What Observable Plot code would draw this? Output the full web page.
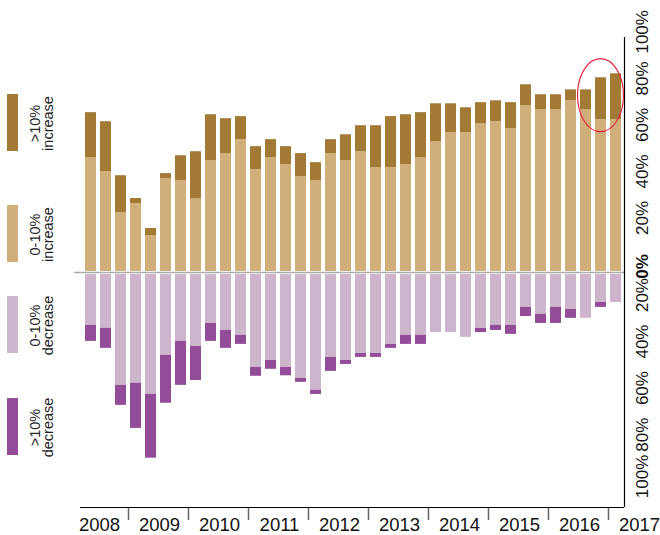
<!DOCTYPE html>
<html>
<head>
<meta charset="utf-8">
<script src="https://cdn.jsdelivr.net/npm/d3@7"></script>
<script src="https://cdn.jsdelivr.net/npm/@observablehq/plot@0.6"></script>
<style>
  body { margin: 0; background: #fff; }
  #wrap { position: relative; width: 660px; height: 535px; font-family: "Liberation Sans", Arial, Helvetica, sans-serif; }
  #wrap svg { position: absolute; left: 0; top: 0; overflow: visible; }
</style>
</head>
<body>
<div id="wrap"></div>
<script>
// ---- data (share of areas, %) ----
const quarters = [
  "2008-Q2","2008-Q3","2008-Q4","2009-Q1","2009-Q2","2009-Q3","2009-Q4","2010-Q1",
  "2010-Q2","2010-Q3","2010-Q4","2011-Q1","2011-Q2","2011-Q3","2011-Q4","2012-Q1",
  "2012-Q2","2012-Q3","2012-Q4","2013-Q1","2013-Q2","2013-Q3","2013-Q4","2014-Q1",
  "2014-Q2","2014-Q3","2014-Q4","2015-Q1","2015-Q2","2015-Q3","2015-Q4","2016-Q1",
  "2016-Q2","2016-Q3","2016-Q4","2017-Q1"
];
const incSmall = [49.4,43.3,25.8,29.6,15.9,40.3,39.5,31.8,48.1,51.1,57.1,44.2,49.4,46.4,41.2,39.5,51.1,48.1,51.9,45.1,45.1,46.4,49.4,56.2,60.1,60.1,63.9,64.8,61.8,71.7,70.0,70.0,73.8,70.0,65.7,65.7];
const incLarge = [19.3,21.5,15.8,2.2,3.0,2.2,10.7,20.1,19.7,15.0,9.9,9.9,7.7,7.7,9.9,7.7,6.0,11.1,11.2,18.0,21.9,21.4,19.3,16.3,12.4,10.7,9.1,9.0,11.2,9.0,6.4,6.4,4.7,8.5,18.0,19.7];
const decSmall = [22.7,24.0,48.5,47.6,52.4,35.6,29.6,31.8,21.9,24.9,27.0,40.8,37.8,40.8,45.5,50.6,36.5,37.8,34.8,34.8,30.9,27.0,27.0,25.8,25.8,27.9,24.0,22.7,22.7,15.0,18.0,15.0,15.9,19.7,12.9,12.9];
const decLarge = [6.9,8.6,8.6,19.4,27.4,20.6,18.9,14.6,7.7,7.7,3.9,3.8,3.8,3.6,1.7,1.8,6.0,1.7,1.7,1.7,1.7,3.9,3.9,0,0,0,1.8,2.2,3.9,3.9,3.9,6.9,3.8,0,2.1,0];

const categories = [">10% increase", "0-10% increase", "0-10% decrease", ">10% decrease"];
const colors = ["#a27a36", "#d0af7a", "#cdb6cb", "#934c97"];

const yearLabels = ["2008","2009","2010","2011","2012","2013","2014","2015","2016","2017"];
const yearTicks = [2009,2010,2011,2012,2013,2014,2015,2016,2017];
const yTicksUp = [20,40,60,80,100];
const yTicksDown = [-20,-40,-60,-80,-100];

const annotQuarter = "2016-Q4";
const annotValue = 76;

// ---- build table ----
const qStart = q => { const [y, k] = q.split("-Q"); return +y + (+k - 1) / 4; };
const rows = quarters.map((q, i) => {
  const x1 = qStart(q), x2 = x1 + 0.25;
  return {x1, x2,
    a0: 0, a1: incSmall[i], b1: incSmall[i] + incLarge[i],
    c1: -decSmall[i], d1: -(decSmall[i] + decLarge[i])};
});

const xDomain = [2008.2, 2017.2667];
const yDomain = [-101, 101];
const pct = d => Math.abs(d) + "%";

const plot = Plot.plot({
  width: 660, height: 535,
  marginLeft: 80, marginRight: 36, marginTop: 37, marginBottom: 28,
  style: {fontFamily: "'Liberation Sans', Arial, Helvetica, sans-serif", background: "transparent"},
  x: {type: "linear", domain: xDomain, ticks: yearTicks, tickSize: 13, tickFormat: () => "", label: null},
  y: {domain: yDomain, axis: null},
  marks: [
    Plot.rect(rows, {x1: "x1", x2: "x2", y1: "a0", y2: "a1", fill: colors[1], insetLeft: 2, insetRight: 2, insetBottom: 1}),
    Plot.rect(rows, {x1: "x1", x2: "x2", y1: "a1", y2: "b1", fill: colors[0], insetLeft: 2, insetRight: 2}),
    Plot.rect(rows, {x1: "x1", x2: "x2", y1: "a0", y2: "c1", fill: colors[2], insetLeft: 2, insetRight: 2, insetTop: 2}),
    Plot.rect(rows, {x1: "x1", x2: "x2", y1: "c1", y2: "d1", fill: colors[3], insetLeft: 2, insetRight: 2}),
    Plot.ruleY([0], {stroke: "#aaa", strokeWidth: 1.6, insetLeft: -6}),
    Plot.ruleY([yDomain[0]], {stroke: "#000", strokeWidth: 1.2}),
    Plot.ruleX([xDomain[1]], {stroke: "#000", strokeWidth: 1.2}),
    Plot.text(yearLabels, {x: d => +d + 0.5, y: yDomain[0], text: d => d, lineAnchor: "top", dy: 10, dx: 1, fontSize: 18.5, fill: "#111"}),
    Plot.text(yTicksUp, {x: xDomain[1], y: d => d, text: pct, rotate: -90, textAnchor: "middle", dx: 18, dy: -8, fontSize: 17, fill: "#111"}),
    Plot.text(yTicksDown, {x: xDomain[1], y: d => d, text: pct, rotate: -90, textAnchor: "start", dx: 18, dy: -7, fontSize: 17, fill: "#111"}),
    Plot.text([0], {x: xDomain[1], y: d => d, text: pct, rotate: -90, textAnchor: "middle", dx: 18, dy: -6, fontSize: 17, fontWeight: "bold", fill: "#111"})
  ]
});

// tick styling
d3.select(plot).selectAll("[aria-label='x-axis tick'] path, [aria-label='x-axis'] path, g[aria-label='x-axis'] line").attr("stroke", "#666").attr("stroke-width", 1.5);

// annotation ellipse through the library's scales
const sx = plot.scale("x"), sy = plot.scale("y");
d3.select(plot).append("ellipse")
  .attr("cx", sx.apply(qStart(annotQuarter) + 0.125))
  .attr("cy", sy.apply(annotValue))
  .attr("rx", 23).attr("ry", 36.5)
  .attr("fill", "none").attr("stroke", "#e5213e").attr("stroke-width", 1.1);

document.getElementById("wrap").appendChild(plot);

// ---- legend (left side) ----
const legendTop = [94, 205, 296, 398];
const lg = d3.select("#wrap").append("svg").attr("width", 75).attr("height", 535);
categories.forEach((c, i) => {
  const y0 = legendTop[i], h = 57;
  lg.append("rect").attr("x", 7).attr("y", y0).attr("width", 11).attr("height", h).attr("fill", colors[i]);
  const parts = c.split(" ");
  const t = lg.append("text")
    .attr("transform", `translate(40,${y0 + h / 2 + 1}) rotate(-90)`)
    .attr("text-anchor", "middle")
    .attr("font-size", 14.5)
    .attr("fill", "#222");
  t.append("tspan").attr("x", 0).attr("dy", 0).text(parts[0]);
  t.append("tspan").attr("x", 0).attr("dy", 12.5).text(parts[1]);
});
</script>
</body>
</html>
